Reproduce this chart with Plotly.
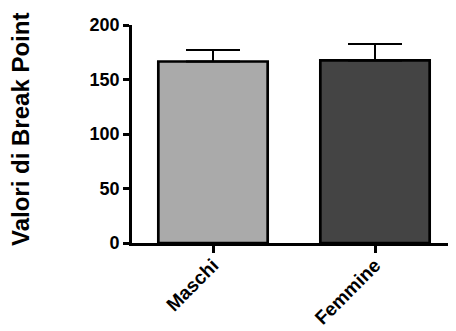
import plotly.graph_objects as go

categories = ["Maschi", "Femmine"]
values = [166.5, 167.5]
errors_plus = [10.5, 15.0]
colors = ["#aaaaaa", "#444444"]
y_ticks = [0, 50, 100, 150, 200]
y_title = "Valori di Break Point"

font_family = "Liberation Sans, Arial, sans-serif"

fig = go.Figure()
fig.add_trace(go.Bar(
    x=categories, y=values,
    marker=dict(color=colors, line=dict(color="black", width=2.7)),
    width=0.675,
    error_y=dict(type="data", array=errors_plus, arrayminus=[0, 0], symmetric=False,
                 color="black", thickness=2, width=27),
))

fig.update_layout(
    width=456, height=331,
    margin=dict(l=124, r=8, t=17, b=96),
    plot_bgcolor="white", paper_bgcolor="white",
    showlegend=False,
    font=dict(family=font_family, color="black"),
)
fig.update_xaxes(
    range=[-0.5, 1.5],
    showline=True, linecolor="black", linewidth=2.7,
    ticks="outside", ticklen=7, tickwidth=2.5, tickcolor="black",
    tickangle=-45,
    ticklabelstandoff=-6,
    tickfont=dict(size=19, family=font_family, weight="bold"),
    showgrid=False, zeroline=False, automargin=False,
)
fig.update_yaxes(
    range=[0, 200],
    tickvals=y_ticks,
    showline=True, linecolor="black", linewidth=2.7,
    ticks="outside", ticklen=6, tickwidth=2.5, tickcolor="black",
    tickfont=dict(size=18, family=font_family, weight="bold"),
    showgrid=False, zeroline=False, automargin=False,
)
fig.add_annotation(
    text=y_title, textangle=-90,
    xref="paper", yref="paper", x=0, y=0.5,
    xanchor="center", yanchor="middle",
    xshift=-112, yshift=4,
    showarrow=False,
    font=dict(size=24, family=font_family, weight="bold", color="black"),
)

fig.write_html("out.html")
